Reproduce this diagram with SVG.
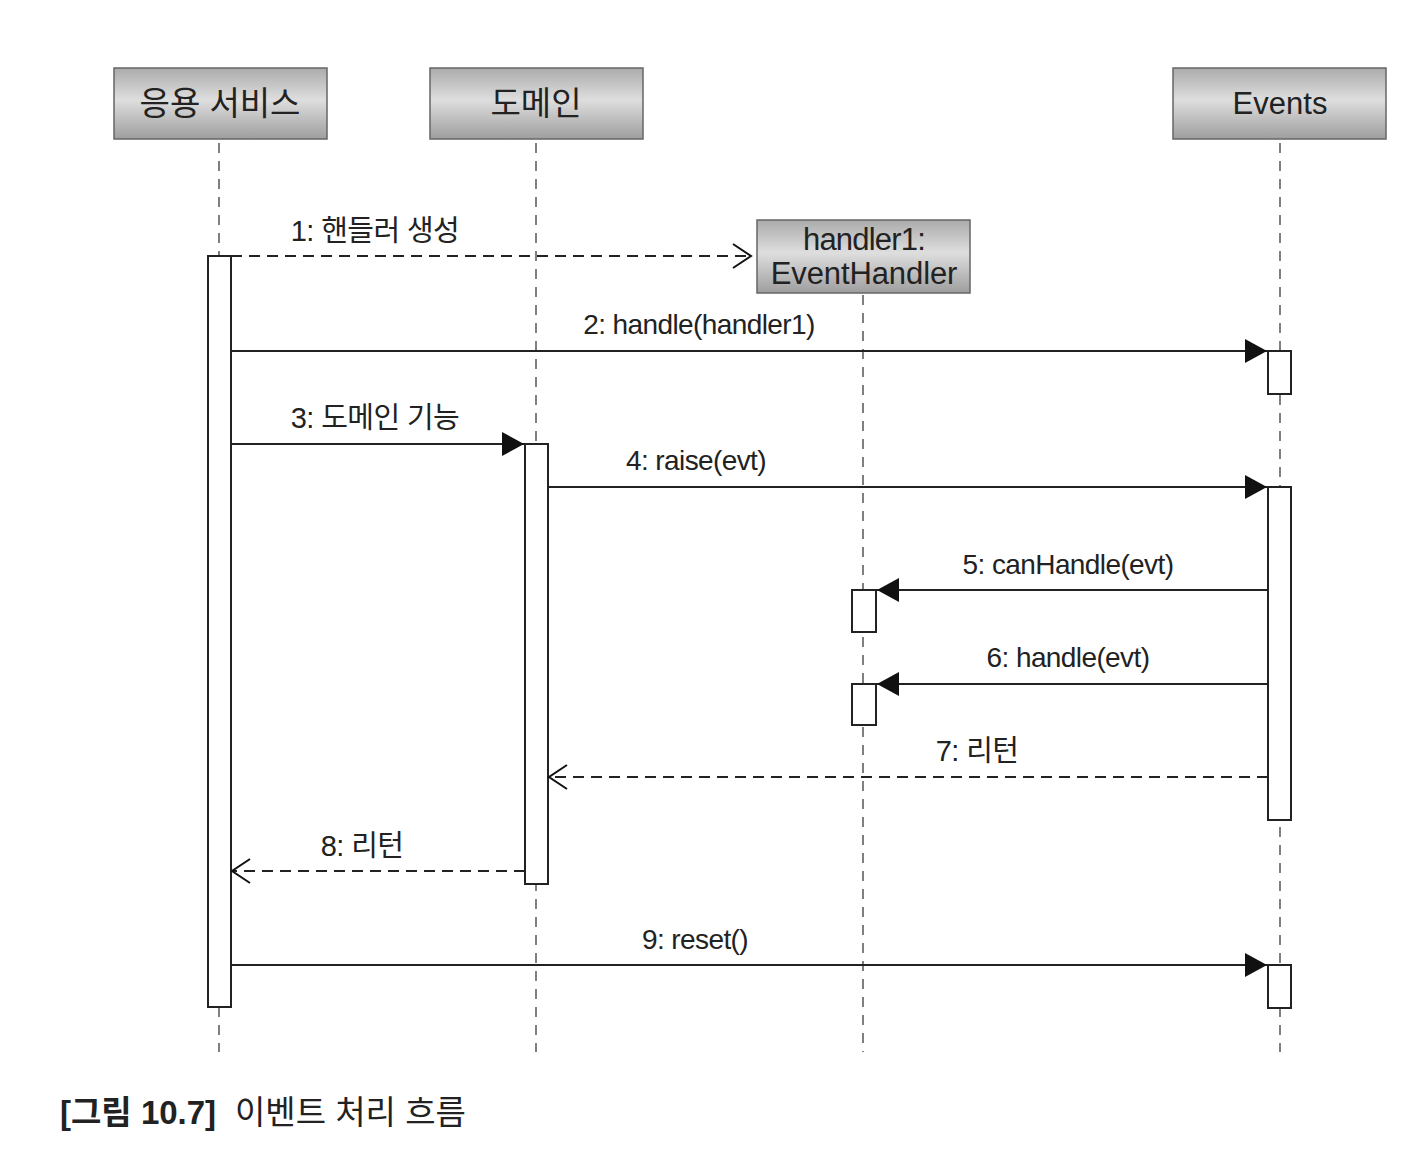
<svg xmlns="http://www.w3.org/2000/svg" width="1418" height="1162" viewBox="0 0 1418 1162">
<defs>
<linearGradient id="boxg" x1="0" y1="0" x2="0" y2="1">
<stop offset="0" stop-color="#ababab"/>
<stop offset="0.45" stop-color="#dedede"/>
<stop offset="1" stop-color="#9e9e9e"/>
</linearGradient>
<marker id="filled" markerUnits="userSpaceOnUse" markerWidth="24" markerHeight="26" viewBox="0 0 24 26" refX="23" refY="13" orient="auto">
<path d="M1,1 L23,13 L1,25 Z" fill="#111"/>
</marker>
<marker id="open" markerUnits="userSpaceOnUse" markerWidth="22" markerHeight="28" viewBox="0 0 22 28" refX="20" refY="14" orient="auto">
<path d="M2,2 L20,14 L2,26" fill="none" stroke="#111" stroke-width="2"/>
</marker>
</defs>
<style>
.box{fill:url(#boxg);stroke:#666;stroke-width:1.5}
.hdr{font-family:"Liberation Sans","Noto Sans CJK KR",sans-serif;font-size:31px;fill:#222;text-anchor:middle}
.hk{font-size:33px}
.life{stroke:#555;stroke-width:1.5;stroke-dasharray:10 8;fill:none}
.act{fill:#fff;stroke:#222;stroke-width:2}
.msg{stroke:#222;stroke-width:2;fill:none}
.ret{stroke:#222;stroke-width:2;fill:none;stroke-dasharray:11 7}
.lbl{font-family:"Liberation Sans","Noto Sans CJK KR",sans-serif;font-size:28px;fill:#222;text-anchor:middle;letter-spacing:-0.6px}
.lk{font-size:29px}
.cap{font-family:"Liberation Sans","Noto Sans CJK KR",sans-serif;font-size:33px;fill:#222}
</style>
<rect width="1418" height="1162" fill="#fff"/>

<g id="lifelines">
<line class="life" x1="219" y1="143" x2="219" y2="1052"/>
<line class="life" x1="536" y1="143" x2="536" y2="1052"/>
<line class="life" x1="863" y1="295" x2="863" y2="1052"/>
<line class="life" x1="1280" y1="143" x2="1280" y2="1052"/>
</g>

<g id="node-app">
<rect class="box" x="114" y="68" width="213" height="71"/>
<text class="hdr hk" x="220" y="115">응용 서비스</text>
</g>
<g id="node-domain">
<rect class="box" x="430" y="68" width="213" height="71"/>
<text class="hdr hk" x="536" y="115">도메인</text>
</g>
<g id="node-events">
<rect class="box" x="1173" y="68" width="213" height="71"/>
<text class="hdr" x="1280" y="114">Events</text>
</g>
<g id="node-handler">
<rect class="box" x="757" y="220" width="213" height="73"/>
<text class="hdr" x="864" y="250" style="letter-spacing:-0.8px">handler1:</text>
<text class="hdr" x="864" y="284" style="letter-spacing:-0.1px">EventHandler</text>
</g>

<g id="activations">
<rect class="act" x="208" y="256" width="23" height="751"/>
<rect class="act" x="1268" y="351" width="23" height="43"/>
<rect class="act" x="525" y="444" width="23" height="440"/>
<rect class="act" x="1268" y="487" width="23" height="333"/>
<rect class="act" x="852" y="590" width="24" height="42"/>
<rect class="act" x="852" y="684" width="24" height="41"/>
<rect class="act" x="1268" y="965" width="23" height="43"/>
</g>

<g id="connectors">
<line class="ret" x1="231" y1="256" x2="751" y2="256" marker-end="url(#open)"/>
<line class="msg" x1="231" y1="351" x2="1267" y2="351" marker-end="url(#filled)"/>
<line class="msg" x1="231" y1="444" x2="524" y2="444" marker-end="url(#filled)"/>
<line class="msg" x1="548" y1="487" x2="1267" y2="487" marker-end="url(#filled)"/>
<line class="msg" x1="1268" y1="590" x2="877" y2="590" marker-end="url(#filled)"/>
<line class="msg" x1="1268" y1="684" x2="877" y2="684" marker-end="url(#filled)"/>
<line class="ret" x1="1268" y1="777" x2="549" y2="777" marker-end="url(#open)"/>
<line class="ret" x1="525" y1="871" x2="232" y2="871" marker-end="url(#open)"/>
<line class="msg" x1="231" y1="965" x2="1267" y2="965" marker-end="url(#filled)"/>
</g>

<g id="labels">
<text class="lbl lk" x="375" y="241">1: 핸들러 생성</text>
<text class="lbl" x="699" y="334">2: handle(handler1)</text>
<text class="lbl lk" x="375" y="428">3: 도메인 기능</text>
<text class="lbl" x="696" y="470">4: raise(evt)</text>
<text class="lbl" x="1068" y="574">5: canHandle(evt)</text>
<text class="lbl" x="1068" y="667">6: handle(evt)</text>
<text class="lbl lk" x="977" y="761">7: 리턴</text>
<text class="lbl lk" x="362" y="856">8: 리턴</text>
<text class="lbl" x="695" y="949">9: reset()</text>
</g>

<g id="caption">
<text class="cap" x="60" y="1124"><tspan font-weight="bold">[그림 10.7]</tspan><tspan x="235">이벤트 처리 흐름</tspan></text>
</g>
</svg>
